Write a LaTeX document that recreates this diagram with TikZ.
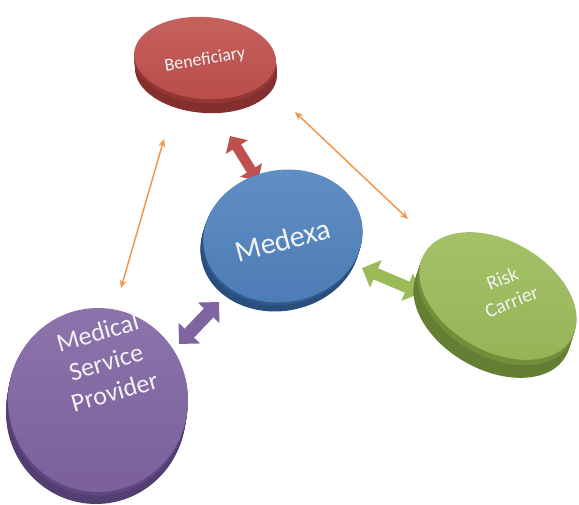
\documentclass[tikz,border=0pt]{standalone}
\usepackage{fontspec}
\setmainfont{Carlito}
\usetikzlibrary{arrows.meta}
\definecolor{redtop}{HTML}{C0504D}\definecolor{redside}{HTML}{943634}
\definecolor{bluetop}{HTML}{4F81BD}\definecolor{blueside}{HTML}{30598C}
\definecolor{greentop}{HTML}{9BBB59}\definecolor{greenside}{HTML}{728F3A}
\definecolor{purptop}{HTML}{8064A2}\definecolor{purpside}{HTML}{5E4680}
\definecolor{orangeln}{HTML}{F79646}
\definecolor{txt}{HTML}{F2F2F2}
\newcommand{\mydisk}[9]{%
  % #1,#2 centre; #3 rx; #4 ry; #5 rot; #6,#7 thickness offset; #8 top; #9 side
  \foreach \t in {1,0.9,...,0.05}{%
    \begin{scope}[shift={(#1+\t*#6,#2+\t*#7)},rotate=#5]
      \fill[#9!88!black] (0,0) ellipse [x radius=#3, y radius=#4];
    \end{scope}}
  \begin{scope}[shift={(#1+0.3*#6,#2+0.3*#7)},rotate=#5]
    \fill[#9] (0,0) ellipse [x radius=#3, y radius=#4];
  \end{scope}
  \begin{scope}[shift={(#1,#2)},rotate=#5]
    \shade[top color=#8!90!white, bottom color=#8!96!black] (0,0) ellipse [x radius=#3, y radius=#4];
  \end{scope}}
\tikzset{
  lbl/.style={text=txt, align=center, font=#1},
  thin/.style={draw=orangeln, line width=1.5pt, {Stealth[length=8pt,width=7pt]}-{Stealth[length=8pt,width=7pt]}}
}
\begin{document}
\begin{tikzpicture}[x=1pt,y=-1pt]
\useasboundingbox (0,0) rectangle (579,504);
% connector end points
\coordinate (rA) at (230,136); \coordinate (rB) at (258,181);
\coordinate (pA) at (219,302); \coordinate (pB) at (179,344);
\coordinate (gA) at (362,268); \coordinate (gB) at (421,293);
\coordinate (o1A) at (295,112); \coordinate (o1B) at (408,219);
\coordinate (o2A) at (164,139); \coordinate (o2B) at (121,288);
% fat arrows behind disks
\draw[redtop, line width=10pt, {Triangle[length=13pt,width=25pt]}-{Triangle[length=13pt,width=25pt]}] (rA) -- (rB);
\draw[greentop, line width=12pt, {Triangle[length=15pt,width=29pt]}-{Triangle[length=15pt,width=29pt]}] (gA) -- (gB);
% disks
\mydisk{205}{58}{71}{41}{-4}{1}{14}{redtop}{redside}
\mydisk{498}{296}{85}{55}{-30}{-6}{18}{greentop}{greenside}
\mydisk{283}{236}{80}{66}{10}{-3}{9}{bluetop}{blueside}
\mydisk{98}{400}{90}{92}{0}{-2}{12}{purptop}{purpside}
\draw[purptop, line width=13pt, {Triangle[length=15pt,width=29pt]}-{Triangle[length=15pt,width=29pt]}] (pA) -- (pB);
% thin arrows
\draw[thin] (o1A) -- (o1B);
\draw[thin] (o2A) -- (o2B);
% labels
\node[lbl={\fontsize{18}{21}\selectfont}, rotate=9] (ben) at (205,60) {Beneficiary};
\node[lbl={\fontsize{30}{34}\selectfont}, rotate=15] (med) at (283,240) {Medexa};
\node[lbl={\fontsize{20}{25}\selectfont}, rotate=22] (risk) at (507,290) {Risk\\Carrier};
\node[lbl={\fontsize{26}{31}\selectfont}, rotate=16] (msp) at (106,362) {Medical\\Service\\Provider};
\end{tikzpicture}
\end{document}
